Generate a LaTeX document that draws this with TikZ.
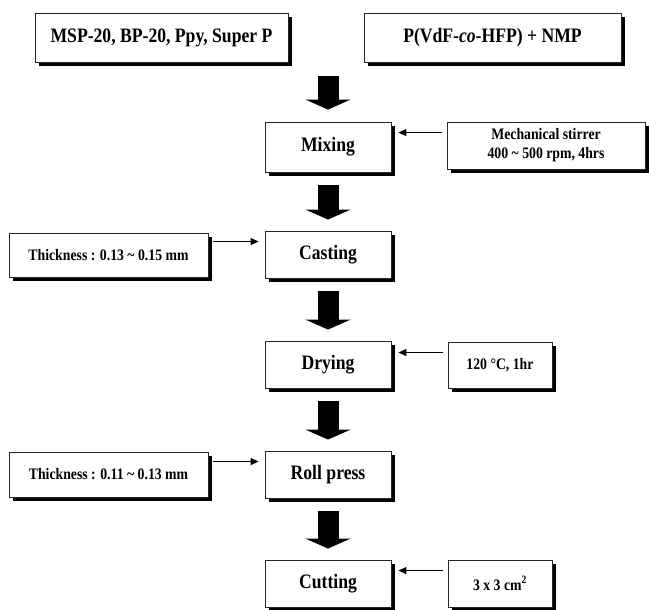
\documentclass[tikz,border=0pt]{standalone}
\usepackage{fontspec}
\setmainfont{Liberation Serif}[FakeStretch=0.86]
\usetikzlibrary{calc}
\usetikzlibrary{shadows}
\usetikzlibrary{arrows.meta}
\tikzset{
  procbox/.style={rectangle, draw=black!85, line width=0.9pt, fill=white, inner sep=0pt,
    drop shadow={shadow xshift=4pt, shadow yshift=-4pt, fill=black, opacity=1}},
  bigtext/.style={font=\fontsize{20.5}{24}\selectfont\bfseries},
  smalltext/.style={font=\fontsize{16}{19}\selectfont\bfseries},
  blockarrow/.style={line width=21pt, -{Triangle[length=10pt, width=45pt]}},
  thinarrow/.style={line width=1pt, -{Triangle[length=8pt, width=7pt]}},
}
\newcommand{\flowbox}[7]{\node[procbox, #7, minimum width=#4pt, minimum height=#5pt] (#1) at (#2,#3) {#6};}

\begin{document}
\begin{tikzpicture}[x=1pt, y=-1pt]
        \useasboundingbox (0,0) rectangle (649,610);

        % input materials
        \flowbox{src1}{161.5}{37.5}{253}{49}{MSP-20, BP-20, Ppy, Super P}{bigtext}
        \flowbox{src2}{492.5}{37.5}{257}{49}{P(VdF-\textit{co}-HFP) + NMP}{bigtext}

        % process steps
        \flowbox{mix}{328}{147}{126}{50}{Mixing}{bigtext}
        \flowbox{cast}{328}{254.5}{126}{47}{Casting}{bigtext}
        \flowbox{dry}{328}{364.5}{126}{47}{Drying}{bigtext}
        \flowbox{roll}{328}{474.5}{126}{47}{Roll press}{bigtext}
        \flowbox{cut}{328}{583.5}{126}{47}{Cutting}{bigtext}

        % conditions
        \flowbox{mech}{546}{145.5}{198}{47}{Mechanical stirrer\\400 \textasciitilde{} 500 rpm, 4hrs}{smalltext, align=center}
        \flowbox{thk1}{108.5}{255}{199}{44}{Thickness : 0.13 \textasciitilde{} 0.15 mm}{smalltext}
        \flowbox{temp}{500}{365}{104}{46}{120 °C, 1hr}{smalltext}
        \flowbox{thk2}{108.5}{474.5}{199}{45}{Thickness : 0.11 \textasciitilde{} 0.13 mm}{smalltext}
        \flowbox{size}{500}{583.5}{104}{47}{3 x 3 cm\textsuperscript{2}}{smalltext}

        % block arrows
        \coordinate (top) at (328,76);
        \draw[blockarrow] (top) -- ($(mix.north)+(0,-12)$);
        \draw[blockarrow] ($(mix.south)+(0,13)$) -- ($(cast.north)+(0,-11)$);
        \draw[blockarrow] ($(cast.south)+(0,13)$) -- ($(dry.north)+(0,-11)$);
        \draw[blockarrow] ($(dry.south)+(0,13)$) -- ($(roll.north)+(0,-11)$);
        \draw[blockarrow] ($(roll.south)+(0,13)$) -- ($(cut.north)+(0,-11)$);

        % side arrows
        \coordinate (h1) at ($(mix.north)+(0,11)$);
        \coordinate (h2) at ($(cast.north)+(0,11)$);
        \coordinate (h3) at ($(dry.north)+(0,12)$);
        \coordinate (h4) at ($(roll.north)+(0,11)$);
        \coordinate (h5) at ($(cut.north)+(0,11)$);
        \draw[thinarrow, shorten <=5pt, shorten >=7pt] (mech.west |- h1) -- (mix.east |- h1);
        \draw[thinarrow, shorten <=5pt, shorten >=6pt] (thk1.east |- h2) -- (cast.west |- h2);
        \draw[thinarrow, shorten <=5pt, shorten >=7pt] (temp.west |- h3) -- (dry.east |- h3);
        \draw[thinarrow, shorten <=5pt, shorten >=6pt] (thk2.east |- h4) -- (roll.west |- h4);
        \draw[thinarrow, shorten <=5pt, shorten >=7pt] (size.west |- h5) -- (cut.east |- h5);
\end{tikzpicture}
\end{document}
